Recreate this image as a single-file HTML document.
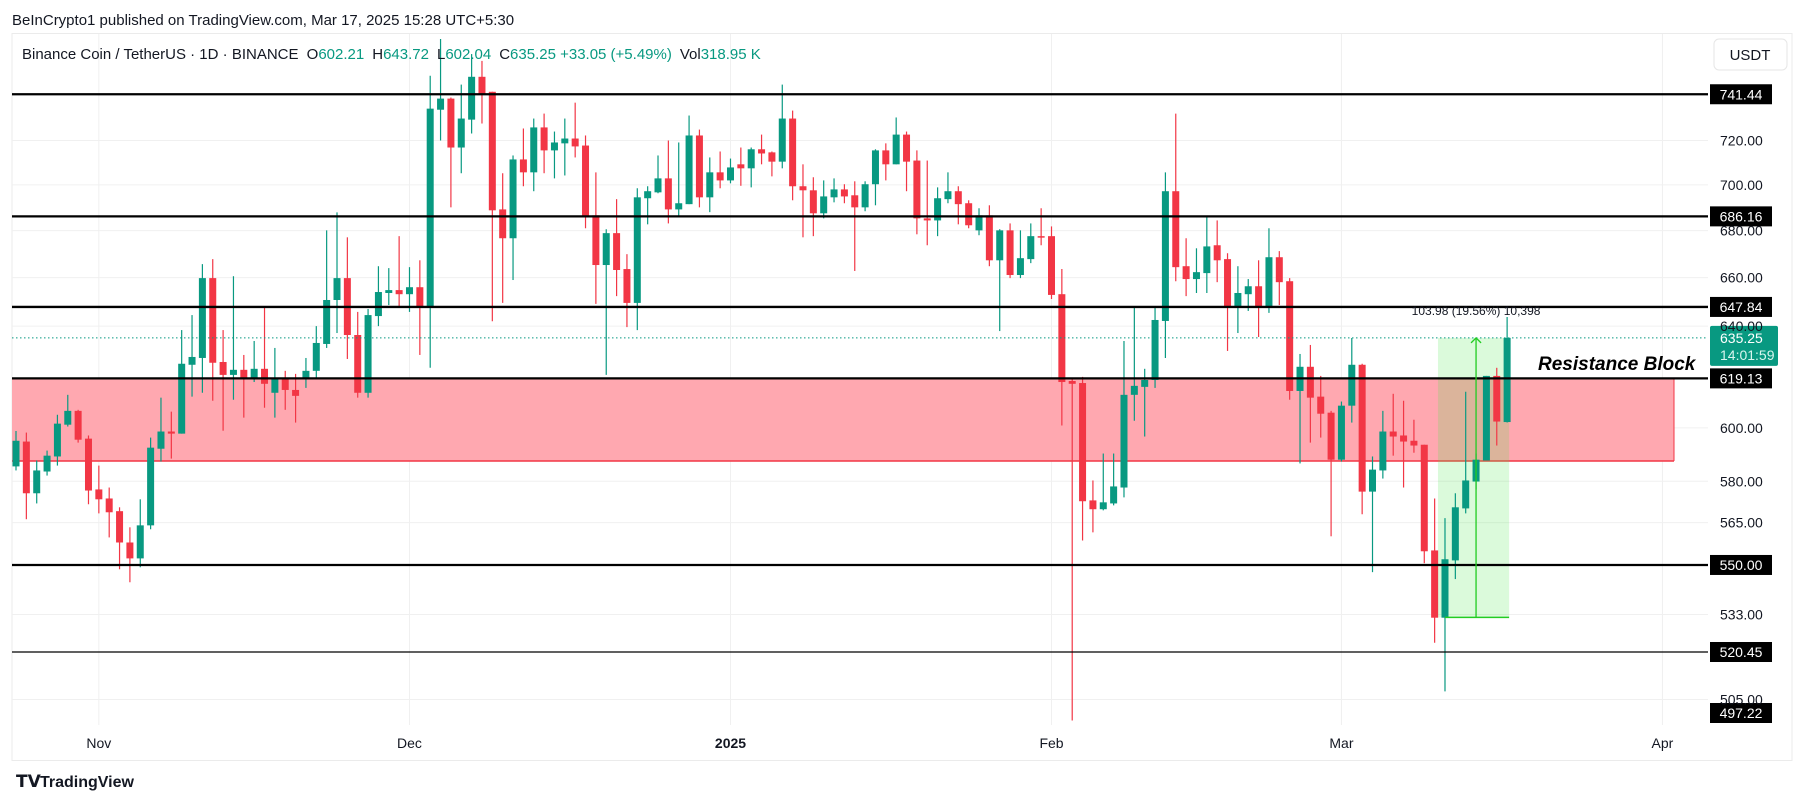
<!DOCTYPE html>
<html><head><meta charset="utf-8">
<style>
html,body{margin:0;padding:0;background:#fff;width:1804px;height:803px;overflow:hidden;font-family:"Liberation Sans",sans-serif;}
svg text{font-family:"Liberation Sans",sans-serif;}
</style></head>
<body>
<svg id="chart" width="1804" height="803" viewBox="0 0 1804 803" xmlns="http://www.w3.org/2000/svg">
<rect x="0" y="0" width="1804" height="803" fill="#fff"/>
<text x="12" y="25" font-size="15" fill="#131722">BeInCrypto1 published on TradingView.com, Mar 17, 2025 15:28 UTC+5:30</text>
<rect x="12" y="33.5" width="1780" height="727" fill="none" stroke="#ebebeb"/>
<g id="grid"></g>
<g id="zones"></g>
<g id="candles"></g>
<g id="overlay"></g>
<g id="axis"></g>
<text x="22" y="59" font-size="15" fill="#131722">Binance Coin / TetherUS · 1D · BINANCE <tspan dx="4">O</tspan><tspan fill="#089981">602.21</tspan><tspan dx="8">H</tspan><tspan fill="#089981">643.72</tspan><tspan dx="8">L</tspan><tspan fill="#089981">602.04</tspan><tspan dx="8">C</tspan><tspan fill="#089981">635.25 +33.05 (+5.49%)</tspan><tspan dx="8">Vol</tspan><tspan fill="#089981">318.95 K</tspan></text>
<rect x="1714" y="39" width="73" height="31" rx="5" fill="#fff" stroke="#e6e6e6"/>
<text x="1750" y="60" font-size="15" fill="#131722" text-anchor="middle">USDT</text>
<g>
<text x="16" y="787" font-size="17" font-weight="bold" fill="#131722">𝗧𝗩</text>
<text x="40" y="787" font-size="16" font-weight="bold" fill="#131722">TradingView</text>
</g>
</svg>
<script>
const opens=[585.5,594.8,575.6,583.6,589.2,601.2,606.5,595.9,577.0,573.7,569.1,557.9,552.3,564.0,592.1,598.6,597.8,624.5,627.2,659.8,625.6,620.5,622.5,619.3,622.9,613.5,619.3,614.6,619.3,622.1,632.8,650.7,659.8,636.4,613.5,644.1,653.6,654.8,653.1,656.0,647.8,734.2,739.4,716.8,729.6,749.7,742.6,689.2,676.7,711.4,705.6,726.0,715.5,718.7,720.9,717.7,686.6,665.3,678.9,663.6,649.5,694.1,696.7,702.9,689.2,691.5,722.3,694.5,705.6,702.0,709.2,707.4,716.0,714.6,710.4,730.1,699.4,697.6,687.5,694.5,698.0,695.4,690.1,700.3,715.5,709.2,722.7,710.9,685.3,684.4,693.7,697.2,691.9,680.1,686.6,667.3,680.1,661.1,667.8,677.6,677.6,653.1,618.1,617.3,573.0,569.8,571.9,577.7,612.7,615.8,618.5,642.1,697.2,664.8,659.4,661.9,673.7,667.8,648.2,653.1,656.4,647.4,668.6,658.5,614.2,623.7,612.0,605.8,588.0,608.5,624.5,576.2,584.0,598.6,597.1,595.1,593.6,555.1,531.9,551.6,570.1,579.9,587.7,620.1,602.21];
const highs=[598.8,598.2,587.7,591.4,605.0,612.7,606.9,597.1,585.8,577.7,570.5,563.3,573.4,596.3,611.6,606.2,638.4,644.5,665.7,667.8,638.4,660.6,628.4,634.0,648.2,631.2,622.1,620.9,627.2,640.0,680.1,687.9,677.1,645.8,647.0,664.8,664.0,677.6,664.4,667.3,750.2,767.9,739.9,746.0,760.6,757.3,742.6,705.2,713.2,725.5,730.1,732.4,724.1,730.1,737.5,722.3,705.6,680.6,693.7,669.9,698.5,699.4,713.2,720.0,719.1,731.5,725.0,712.3,715.0,711.8,716.8,716.8,722.7,715.0,746.0,733.8,709.2,703.4,702.0,702.9,700.3,701.6,701.6,716.0,718.7,730.6,724.1,715.5,710.9,698.9,705.6,699.4,693.2,689.7,691.0,680.6,683.1,680.1,683.1,689.7,681.8,663.6,619.3,619.7,580.3,590.3,590.3,634.0,648.2,622.9,647.4,705.6,732.4,676.7,672.4,685.7,684.4,670.3,664.8,659.4,667.3,681.0,671.2,659.8,628.8,632.4,620.1,606.5,610.1,635.2,624.9,589.2,606.5,613.1,610.4,603.1,593.6,573.7,566.6,575.6,613.9,590.3,620.1,623.3,643.72];
const lows=[584.0,566.2,571.9,582.1,585.8,600.5,594.4,571.6,568.3,559.7,548.5,544.0,549.2,562.6,587.3,588.4,597.8,612.0,613.5,610.4,598.9,610.8,603.9,617.7,607.7,603.9,606.9,602.0,615.4,619.3,631.2,637.2,626.8,611.6,611.6,640.0,648.6,648.2,645.8,628.4,623.3,720.0,690.1,705.2,723.2,727.8,642.0,649.5,659.0,699.4,697.2,705.2,702.9,704.2,712.3,681.0,649.1,620.5,652.3,639.6,638.4,682.7,696.3,683.1,685.7,691.5,690.1,688.0,698.5,700.7,699.6,698.9,709.2,703.8,707.4,693.2,677.1,677.6,685.3,692.3,691.9,662.8,688.4,691.0,702.0,709.2,697.2,678.4,673.7,677.6,691.9,682.7,681.0,678.0,664.8,638.0,659.8,659.8,666.1,673.7,651.1,600.9,498.3,558.6,561.5,569.4,571.2,574.1,602.7,596.7,615.4,627.2,658.5,652.3,653.6,653.6,658.1,630.0,637.2,646.2,635.6,645.4,648.6,610.8,586.6,594.4,596.3,560.1,587.3,602.0,568.0,547.5,581.0,589.5,577.7,590.6,550.6,523.5,507.6,545.1,568.3,577.0,587.7,593.3,602.04];
const closes=[595.1,575.6,584.0,589.5,601.6,606.5,595.5,576.6,573.4,568.7,557.9,552.3,564.0,592.5,598.6,597.8,624.9,627.6,659.8,625.3,620.5,622.5,619.3,622.9,617.0,619.3,614.6,612.3,622.1,633.2,650.7,659.8,636.4,613.5,644.5,654.0,654.8,653.1,656.0,647.8,734.7,739.4,716.8,730.1,749.7,741.7,688.8,676.7,711.4,705.6,726.0,715.5,719.1,720.9,717.3,686.2,665.3,678.9,663.2,649.5,694.5,697.2,702.9,689.2,691.9,722.3,694.5,705.6,702.0,707.8,707.4,716.0,714.1,710.4,730.1,699.4,697.6,687.5,694.9,698.0,694.9,690.1,700.3,715.5,709.2,722.7,710.4,685.3,684.4,694.1,697.2,691.5,682.3,686.6,667.3,680.1,661.1,668.2,677.6,677.1,652.8,617.7,617.0,572.7,569.8,572.3,578.1,612.7,616.2,618.5,642.5,697.2,664.4,659.4,662.3,673.2,667.3,648.2,653.6,656.4,647.4,668.6,658.1,614.2,623.7,611.6,605.4,588.0,608.5,624.5,576.2,584.3,598.6,596.7,594.8,593.3,554.8,531.9,552.0,570.5,580.3,588.0,620.1,602.4,635.25];
const levelPrices=[741.44,686.16,647.84,619.13,550.00,520.45];
const tickPrices=[720,700,680,660,640,600,580,565,533,505];
const monthLabels=["Nov","Dec","2025","Feb","Mar","Apr"];
const monthDayIndex=[8,38,69,100,128,159];
const zoneTop=619.13, zoneBottom=587.5;
const lastPrice=635.25, measureLow=532.0, measureFromIdx=138, measureToIdx=144;
const lowLabel=497.22;

const NS="http://www.w3.org/2000/svg";
const X0=16, DX=10.355, YA=10509.4, YB=1576, PLOT_R=1708;
function xOf(i){return X0+DX*i;}
function yOf(p){return YA-YB*Math.log(p);}
function mk(tag,attrs,parent){const e=document.createElementNS(NS,tag);for(const k in attrs)e.setAttribute(k,attrs[k]);parent.appendChild(e);return e;}
const G=document.getElementById('grid'),Z=document.getElementById('zones'),C=document.getElementById('candles'),O=document.getElementById('overlay'),A=document.getElementById('axis');

// grid
tickPrices.forEach(p=>{const y=yOf(p);
 const l=mk('line',{x1:12,x2:PLOT_R,y1:y,y2:y,stroke:'#f0f0f0','stroke-width':1},G);
 
 
 const t=mk('text',{x:1720,y:y+5,'font-size':14,fill:'#131722'},A);
 t.textContent=p.toFixed(2);
 
 
});
monthDayIndex.forEach((d,k)=>{const x=xOf(d);
 const l=mk('line',{x1:x,x2:x,y1:34,y2:725,stroke:'#f0f0f0','stroke-width':1},G);
 
 
 const t=mk('text',{x:x,y:748,'font-size':14,fill:'#131722','text-anchor':'middle','font-weight':monthLabels[k]==='2025'?'bold':'normal'},A);
 t.textContent=monthLabels[k];
 
 
});

// resistance zone
const zt=yOf(zoneTop),zb=yOf(zoneBottom);
const zr=mk('rect',{x:12,y:zt,width:1674-12,height:zb-zt,fill:'#ffa8b0'},Z);


const zl=mk('line',{x1:12,x2:1674,y1:zb,y2:zb,stroke:'#f23645','stroke-width':1.5},Z);


mk('line',{x1:1674,x2:1674,y1:zt,y2:zb,stroke:'#f23645','stroke-width':1},Z);

// measure box
const mx1=xOf(measureFromIdx)-7,mx2=xOf(measureToIdx)+2,my1=yOf(lastPrice),my2=yOf(measureLow);
const mb=mk('rect',{x:mx1,y:my1,width:mx2-mx1,height:my2-my1,fill:'rgba(76,230,76,0.2)'},Z);



// candles
for(let i=0;i<opens.length;i++){
 const up=closes[i]>=opens[i];const col=up?'#089981':'#f23645';const x=xOf(i);
 const g=mk('g',{},C);
 
 
 mk('line',{x1:x,x2:x,y1:yOf(highs[i]),y2:yOf(lows[i]),stroke:col,'stroke-width':1.2},g);
 const yt=yOf(Math.max(opens[i],closes[i])),yb=yOf(Math.min(opens[i],closes[i]));
 mk('rect',{x:x-3.5,y:yt,width:7,height:Math.max(1.5,yb-yt),fill:col},g);
}

// horizontal levels
levelPrices.forEach(p=>{const y=yOf(p);
 const l=mk('line',{x1:12,x2:PLOT_R,y1:y,y2:y,stroke:'#000','stroke-width':p===520.45?1.3:2.3},O);
 
 
 const r=mk('rect',{x:1710,y:y-10,width:62,height:20,fill:'#000'},O);
 
 
 const t=mk('text',{x:1741,y:y+5,'font-size':14,fill:'#fff','text-anchor':'middle'},O);
 t.textContent=p.toFixed(2);
 
 
});
// low label
{const r=mk('rect',{x:1710,y:703,width:62,height:20,fill:'#000'},O);
 
 
 const t=mk('text',{x:1741,y:718,'font-size':14,fill:'#fff','text-anchor':'middle'},O);
 t.textContent=lowLabel.toFixed(2);
 
 }

// last price line & label
{const y=yOf(lastPrice);
 const l=mk('line',{x1:12,x2:PLOT_R,y1:y,y2:y,stroke:'#089981','stroke-width':1,'stroke-dasharray':'1.5 2.5'},O);
 
 
 const r=mk('rect',{x:1710,y:y-12,width:68,height:40,fill:'#089981',rx:2},O);
 
 
 const t=mk('text',{x:1720,y:y+5,'font-size':14,fill:'#fff'},O);
 t.textContent=lastPrice.toFixed(2);
 
 
 const t2=mk('text',{x:1720,y:y+22,'font-size':14,fill:'#d7f5ee'},O);
 t2.textContent='14:01:59';
 
 }

// measure arrow
{const ax=xOf(141);
 const base=mk('line',{x1:xOf(measureFromIdx),x2:mx2,y1:my2,y2:my2,stroke:'#22cc22','stroke-width':1.5},O);
 
 
 const v=mk('line',{x1:ax,x2:ax,y1:my2,y2:my1,stroke:'#22cc22','stroke-width':1.3},O);
 
 
 mk('polyline',{points:`${ax-5},${my1+5} ${ax},${my1} ${ax+5},${my1+5}`,fill:'none',stroke:'#22cc22','stroke-width':1.3},O);
 const t=mk('text',{x:ax,y:my1-23,'font-size':12,fill:'#131722','text-anchor':'middle'},O);
 t.textContent='103.98 (19.56%) 10,398';
 
 }

// annotation
{const t=mk('text',{x:1538,y:370,'font-size':19,'font-weight':'bold','font-style':'italic',fill:'#000'},O);
 t.textContent='Resistance Block';
 
 }
</script>
</body></html>
